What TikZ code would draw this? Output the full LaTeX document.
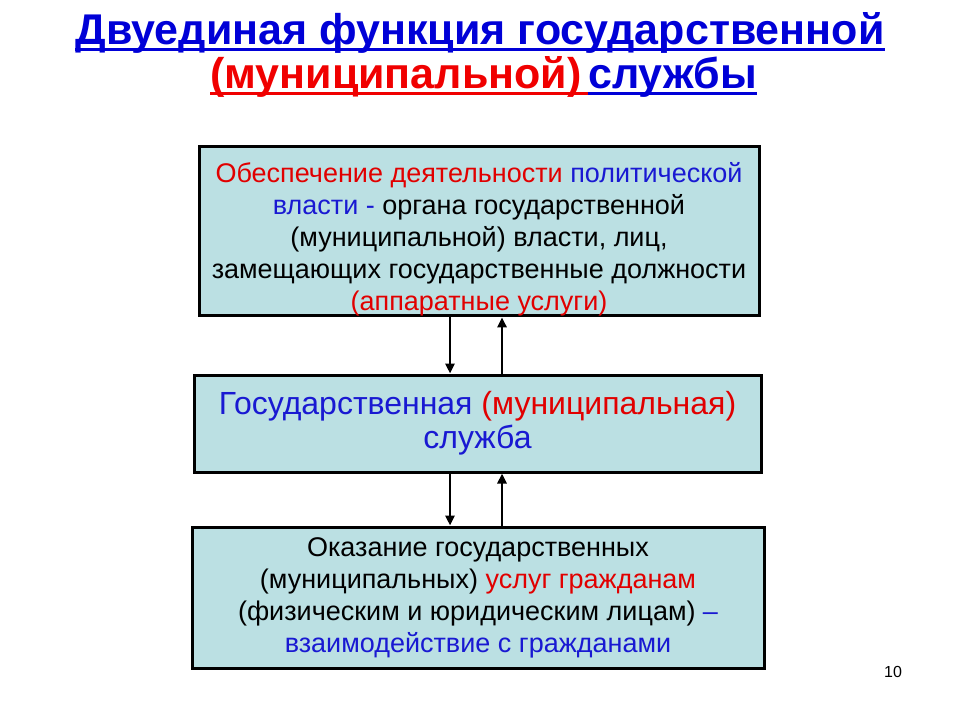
\documentclass[tikz,border=0pt]{standalone}
\usepackage{fontspec}
\setmainfont{Liberation Sans}
\usetikzlibrary{arrows.meta}
\definecolor{boxfill}{RGB}{187,224,227}
\definecolor{headblue}{RGB}{0,0,215}
\definecolor{headred}{RGB}{240,0,0}
\definecolor{txtblue}{RGB}{25,25,210}
\definecolor{txtred}{RGB}{225,0,0}
\begin{document}
\begin{tikzpicture}[x=1pt,y=-1pt,
  headtext/.style={font=\bfseries\fontsize{43}{48}\selectfont,inner sep=0pt},
  headline/.style={line width=3pt},
  box/.style={draw=black,line width=3pt,fill=boxfill,align=center,inner sep=0pt,
              font=\fontsize{27}{32}\selectfont},
  link/.style={line width=2.5pt,-{Triangle[length=10pt,width=9pt]}}]
  \useasboundingbox (0,0) rectangle (960,720);

  \node[headtext,text=headblue,anchor=base] (head) at (480,44)
    {Двуединая функция государственной};
  \node[headtext,text=headred,anchor=base west] (headsub) at (210,88) {(муниципальной)};
  \node[headtext,text=headblue,anchor=base west] (headend) at (588,88) {службы};
  \draw[headline,headblue] ([yshift=-5pt]head.base west) -- ([yshift=-5pt]head.base east);
  \draw[headline,headred] ([yshift=-5pt]headsub.base west) -- ([yshift=-5pt]headend.base west);
  \draw[headline,headblue] ([yshift=-5pt]headend.base west) -- ([yshift=-5pt]headend.base east);

  \node[box,minimum width=560pt,minimum height=168pt] (duty) at (479,231)
    {\rule{0pt}{36pt}\textcolor{txtred}{Обеспечение деятельности} \textcolor{txtblue}{политической}\\
     \textcolor{txtblue}{власти -} органа государственной\\
     (муниципальной) власти, лиц,\\
     замещающих государственные должности\\
     \textcolor{txtred}{(аппаратные услуги)}};

  \node[box,minimum width=567pt,minimum height=97pt,font=\fontsize{32}{34}\selectfont] (service) at (477.5,423.5)
    {\textcolor{txtblue}{Государственная} \textcolor{txtred}{(муниципальная)}\\
     \textcolor{txtblue}{служба}};

  \node[box,minimum width=572pt,minimum height=141pt] (people) at (478,597.5)
    {Оказание государственных\\
     (муниципальных) \textcolor{txtred}{услуг гражданам}\\
     (физическим и юридическим лицам) \textcolor{txtblue}{–}\\
     \textcolor{txtblue}{взаимодействие с гражданами}};

  \draw[link] ([xshift=-29pt]duty.south) -- ([xshift=-29pt]duty.south |- service.north);
  \draw[link] ([xshift=23pt]duty.south |- service.north) -- ([xshift=23pt]duty.south);
  \draw[link] ([xshift=-29pt]duty.south |- service.south) -- ([xshift=-29pt]duty.south |- people.north);
  \draw[link] ([xshift=23pt]duty.south |- people.north) -- ([xshift=23pt]duty.south |- service.south);

  \node[font=\fontsize{16}{18}\selectfont] (pageno) at (893,672) {10};
\end{tikzpicture}
\end{document}
